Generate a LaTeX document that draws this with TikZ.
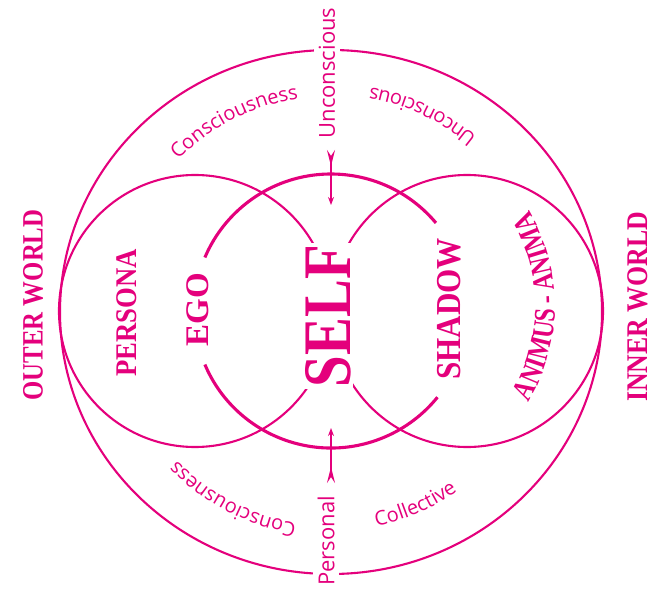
\documentclass[tikz,border=0pt]{standalone}
\usepackage{fontspec}
\setmainfont{Liberation Serif}
\newfontfamily\softsans{Open Sans}
\newfontfamily\narrowserif{Liberation Serif}[FakeStretch=0.8]
\usetikzlibrary{arrows.meta, decorations.text}
\definecolor{psyche}{RGB}{228,0,124}
\newcommand{\arclabel}{\softsans\fontsize{20}{20}\selectfont}

\begin{document}
\begin{tikzpicture}[
    x=1pt, y=1pt,
    ring/.style={draw=psyche, line width=2.1pt},
    selfring/.style={draw=psyche, line width=3.1pt},
    archetype/.style={text=psyche, rotate=90, inner sep=1pt, font=\bfseries\fontsize{#1}{#1}\selectfont},
    axis label/.style={text=psyche, rotate=90, fill=white, inner sep=5pt, font=\softsans\fontsize{22}{22}\selectfont},
    flow/.style={draw=psyche, line width=1.7pt, {Stealth[reversed, length=16pt, width=8pt, inset=6pt]}-{Stealth[length=8pt, width=6pt]}},
    along/.style={decorate, decoration={text along path, text align=center, text color=psyche, text={#1}}}
]
\useasboundingbox (-331,-283) rectangle (324,311);

\draw[ring] (0,-1) ellipse [x radius=271, y radius=262];
\draw[ring] (-136,0) circle [radius=136];
\draw[ring] (136,0) circle [radius=136];
\draw[selfring] (40:137) arc [start angle=40, end angle=157, radius=137];
\draw[selfring] (203:137) arc [start angle=203, end angle=321, radius=137];

\node[archetype=68, xscale=0.835, fill=white, inner sep=2pt] (self) at (-3,-5) {SELF};
\node[archetype=29.5, xscale=0.84] (outer) at (-298,6) {OUTER WORLD};
\node[archetype=30, xscale=0.86] (inner) at (307,4) {INNER WORLD};
\node[archetype=30, xscale=0.89] (persona) at (-204,-2) {PERSONA};
\node[archetype=33] (ego) at (-133,1) {EGO};
\node[archetype=35, xscale=0.89] (shadow) at (118,2) {SHADOW};

\node[axis label] (unconscious) at (-4,238) {Unconscious};
\node[axis label] (personal) at (-5,-230) {Personal};

\coordinate (downtail) at (0,161);
\coordinate (downhead) at (0,106);
\coordinate (uptail) at (0,-172);
\coordinate (uphead) at (0,-117);
\draw[flow] (downtail) -- (downhead);
\draw[flow] (uptail) -- (uphead);

\path[along={|\arclabel|Consciousness}] (142:215) arc [start angle=142, end angle=92, radius=215];
\path[along={|\arclabel|Unconscious}] (35:227) arc [start angle=35, end angle=95, radius=227];
\path[along={|\arclabel|Consciousness}] (270:215) arc [start angle=270, end angle=215, radius=215];
\path[along={|\arclabel|Collective}] (268.5:220) arc [start angle=268.5, end angle=318.5, radius=220];
\path[along={|\narrowserif\bfseries\fontsize{30}{30}\selectfont|ANIMUS - ANIMA}] (36,5) ++(-35:188) arc [start angle=-35, end angle=35, radius=188];
\end{tikzpicture}
\end{document}
